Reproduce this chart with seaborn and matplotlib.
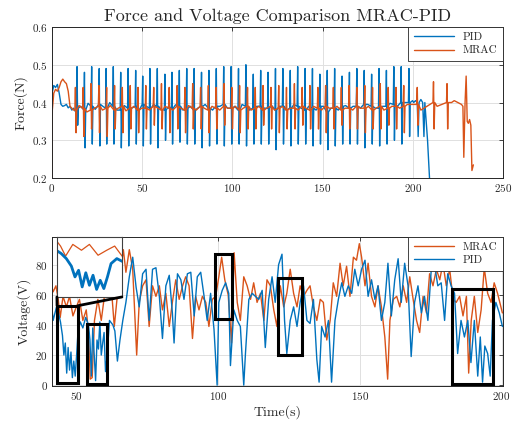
import numpy as np
import pandas as pd
import matplotlib
matplotlib.use("Agg")
import matplotlib.pyplot as plt
import matplotlib.patches as patches
from matplotlib.patches import ConnectionPatch
import seaborn as sns

# ---- force data ----
pid_start_t = [0.0, 0.3, 1.0, 2.0, 3.0, 4.0, 5.0, 6.0, 7.0, 8.0, 9.0, 10.0, 11.0, 12.0, 13.0]
pid_start_v = [0.475, 0.43, 0.445, 0.44, 0.448, 0.425, 0.395, 0.39, 0.392, 0.395, 0.386, 0.39, 0.38, 0.385, 0.376]
pid_spike_t = [13.9, 18.0, 22.0, 26.2, 30.0, 34.0, 38.1, 42.2, 46.4, 50.3, 54.3, 58.4, 62.6, 66.5, 70.6,
               74.7, 78.8, 82.9, 87.0, 91.1, 95.2, 99.3, 103.4, 107.5, 111.6, 115.7, 119.8, 123.9, 128.0,
               132.1, 136.2, 140.3, 144.4, 148.5, 152.6, 156.7, 160.8, 164.9, 169.0, 173.1, 177.2, 181.3,
               185.4, 189.5, 193.6, 197.9]
pid_spike_hi = [0.495, 0.48, 0.495, 0.49, 0.49, 0.495, 0.48, 0.49, 0.485, 0.47, 0.49, 0.49, 0.475, 0.48,
                0.485, 0.49, 0.49, 0.48, 0.485, 0.49, 0.495, 0.495, 0.49, 0.50, 0.475, 0.485, 0.48, 0.49,
                0.49, 0.485, 0.495, 0.49, 0.49, 0.475, 0.485, 0.49, 0.47, 0.48, 0.49, 0.485, 0.475, 0.49,
                0.485, 0.495, 0.495, 0.49]
pid_spike_lo = [0.34, 0.28, 0.29, 0.285, 0.29, 0.29, 0.28, 0.285, 0.29, 0.285, 0.29, 0.28, 0.30, 0.29,
                0.295, 0.29, 0.29, 0.28, 0.285, 0.29, 0.285, 0.29, 0.29, 0.285, 0.29, 0.29, 0.29, 0.275,
                0.29, 0.285, 0.29, 0.29, 0.285, 0.29, 0.275, 0.285, 0.29, 0.29, 0.29, 0.28, 0.29, 0.285,
                0.29, 0.30, 0.29, 0.31]
pid_base_a = [0.385, 0.38, 0.39, 0.395, 0.385, 0.39, 0.38, 0.385, 0.39, 0.395, 0.385, 0.39, 0.38, 0.385,
              0.39, 0.385, 0.38, 0.39, 0.385, 0.39, 0.395, 0.385, 0.38, 0.39, 0.385, 0.39, 0.385, 0.38,
              0.39, 0.385, 0.39, 0.38, 0.385, 0.39, 0.375, 0.385, 0.39, 0.385, 0.39, 0.395, 0.39, 0.385,
              0.39, 0.395, 0.40, 0.40]
pid_base_b = [0.39, 0.398, 0.382, 0.39, 0.40, 0.38, 0.392, 0.385, 0.38, 0.39, 0.395, 0.382, 0.39, 0.394,
              0.38, 0.39, 0.385, 0.395, 0.38, 0.39, 0.385, 0.39, 0.395, 0.38, 0.39, 0.385, 0.392, 0.39,
              0.38, 0.395, 0.385, 0.39, 0.38, 0.39, 0.385, 0.38, 0.392, 0.39, 0.385, 0.395, 0.385, 0.39,
              0.398, 0.39, 0.40, 0.405]
pid_end_t = [200.5, 201.5, 202.5, 203.0, 203.5, 204.5, 205.5, 206.2, 206.7, 207.5, 208.2, 209.4]
pid_end_v = [0.40, 0.405, 0.40, 0.31, 0.40, 0.408, 0.40, 0.31, 0.40, 0.345, 0.30, 0.19]

mrac_start_t = [0.0, 0.2, 1.0, 2.0, 3.0, 4.0, 5.0, 6.0, 7.0, 8.0, 9.0, 10.0, 11.0, 12.0]
mrac_start_v = [0.20, 0.38, 0.425, 0.435, 0.43, 0.44, 0.455, 0.462, 0.455, 0.45, 0.43, 0.39, 0.385, 0.38]
mrac_spike_t = [13.0, 17.3, 21.6, 26.0, 30.3, 34.7, 39.0, 43.4, 47.7, 52.0, 56.4, 60.7, 65.0, 69.4, 73.7,
                78.0, 82.4, 86.7, 91.0, 95.4, 99.7, 104.0, 108.4, 112.7, 117.0, 121.4, 125.7, 130.0, 134.4,
                138.7, 143.0, 147.4, 151.7, 156.0, 160.4, 164.7, 169.0, 173.4, 177.7, 182.0, 186.4, 190.7,
                195.0, 202.5, 211.5, 219.0]
mrac_spike_hi = [0.44, 0.44, 0.45, 0.445, 0.44, 0.445, 0.44, 0.445, 0.44, 0.445, 0.44, 0.45, 0.44, 0.445,
                 0.44, 0.45, 0.44, 0.445, 0.44, 0.45, 0.44, 0.445, 0.44, 0.44, 0.445, 0.44, 0.445, 0.44,
                 0.45, 0.44, 0.445, 0.44, 0.445, 0.44, 0.44, 0.445, 0.44, 0.445, 0.44, 0.45, 0.44, 0.44,
                 0.445, 0.44, 0.455, 0.45]
mrac_spike_lo = [0.32, 0.31, 0.33, 0.32, 0.31, 0.33, 0.32, 0.33, 0.32, 0.33, 0.34, 0.33, 0.32, 0.33, 0.32,
                 0.33, 0.33, 0.32, 0.33, 0.34, 0.33, 0.32, 0.33, 0.33, 0.34, 0.33, 0.32, 0.33, 0.33, 0.34,
                 0.33, 0.33, 0.32, 0.33, 0.34, 0.33, 0.33, 0.32, 0.33, 0.33, 0.34, 0.33, 0.32, 0.34, 0.33,
                 0.33]
mrac_base_a = [0.38, 0.385, 0.38, 0.39, 0.385, 0.38, 0.39, 0.385, 0.38, 0.385, 0.39, 0.38, 0.385, 0.39,
               0.38, 0.385, 0.39, 0.38, 0.385, 0.39, 0.385, 0.38, 0.39, 0.385, 0.38, 0.39, 0.385, 0.38,
               0.385, 0.39, 0.38, 0.385, 0.39, 0.385, 0.38, 0.385, 0.39, 0.385, 0.38, 0.39, 0.385, 0.39,
               0.39, 0.395, 0.40, 0.40]
mrac_base_b = [0.392, 0.375, 0.385, 0.38, 0.392, 0.385, 0.378, 0.39, 0.385, 0.38, 0.386, 0.39, 0.38, 0.385,
               0.392, 0.38, 0.385, 0.39, 0.38, 0.385, 0.39, 0.385, 0.38, 0.39, 0.385, 0.38, 0.39, 0.385,
               0.38, 0.385, 0.39, 0.38, 0.385, 0.39, 0.385, 0.38, 0.385, 0.39, 0.385, 0.38, 0.39, 0.385,
               0.395, 0.38, 0.39, 0.40]
mrac_end_t = [221.5, 223.0, 225.0, 227.0, 227.8, 228.3, 229.0, 229.6, 230.2, 230.8, 231.5, 232.2, 232.8, 233.6]
mrac_end_v = [0.40, 0.405, 0.40, 0.395, 0.39, 0.255, 0.40, 0.47, 0.35, 0.345, 0.355, 0.34, 0.22, 0.235]

# ---- voltage data ----
pid_volt_t = [41.0, 41.7, 42.9, 43.6, 44.3, 45.0, 45.5, 46.0, 46.5, 47.0, 47.5, 48.0, 48.5, 49.0, 49.5,
              50.0, 50.5, 51.3, 52.2, 53.2, 54.2, 54.7, 55.2, 55.7, 56.2, 56.7, 57.2, 57.7, 58.2, 58.7,
              59.2, 59.7, 60.2, 60.7, 61.6, 62.8, 63.5, 64.4, 65.3, 66.3, 67.4, 68.6, 69.8, 71.0, 72.1,
              73.3, 74.5, 75.6, 76.8, 78.0, 79.2, 80.3, 81.5, 82.7, 83.8, 84.4, 85.6, 86.8, 87.9, 89.1,
              90.3, 91.5, 92.6, 93.8, 95.0, 96.1, 97.3, 98.5, 99.6, 100.2, 101.4, 102.6, 103.7, 104.3,
              105.5, 106.7, 107.8, 109.0, 109.6, 110.8, 112.0, 113.1, 114.3, 115.5, 116.6, 117.8, 119.0,
              120.1, 121.3, 122.5, 123.4, 124.2, 125.4, 126.6, 127.8, 128.9, 130.1, 131.3, 132.4, 133.6,
              134.8, 135.6, 136.5, 137.7, 138.9, 140.0, 141.2, 142.4, 143.6, 144.7, 145.9, 147.1, 148.2,
              149.4, 150.6, 151.8, 152.9, 154.1, 155.3, 156.4, 157.6, 158.8, 159.9, 161.1, 162.3, 163.5,
              164.6, 165.8, 167.0, 168.1, 169.3, 170.5, 171.7, 172.8, 174.0, 175.2, 176.3, 177.5, 178.7,
              179.9, 181.0, 182.2, 183.4, 184.5, 185.7, 186.9, 188.1, 189.2, 190.4, 191.6, 192.5, 193.3,
              194.1, 195.1, 196.0, 196.8, 198.0, 199.2, 200.3]
pid_volt_v = [57, 43, 52, 48, 42, 33, 20, 28, 8, 25, 10, 22, 5, 16, 6,
              20, 36, 42, 38, 45, 40, 30, 6, 38, 20, 3, 30, 24, 42, 20,
              28, 35, 9, 18, 43, 40, 36, 16, 30, 43, 55, 72, 85, 65, 52,
              74, 77, 43, 77, 78, 59, 31, 66, 73, 48, 28, 74, 70, 57, 74,
              75, 46, 72, 75, 59, 43, 61, 37, 0, 55, 63, 68, 61, 13,
              50, 43, 39, 0, 21, 57, 61, 59, 57, 63, 25, 57, 72,
              55, 80, 87, 43, 21, 43, 52, 39, 55, 66, 43, 41, 57,
              17, 2, 39, 32, 43, 2, 43, 57, 68, 59, 66, 61, 77,
              66, 77, 83, 59, 70, 57, 66, 43, 55, 81, 46, 70, 84,
              55, 81, 66, 19, 55, 66, 48, 59, 43, 77, 81, 66, 68,
              43, 74, 66, 61, 21, 43, 32, 43, 15, 43, 6, 32, 2,
              26, 21, 6, 43, 55, 48, 39]

mrac_volt_t = [40.8, 41.7, 42.7, 43.5, 44.2, 45.2, 46.4, 47.5, 48.7, 49.9, 51.0, 52.2, 53.4, 54.2, 54.8,
               55.5, 56.3, 57.5, 58.7, 59.8, 61.0, 62.2, 63.3, 64.4, 65.6, 66.5, 67.4, 68.6, 69.8, 71.2,
               72.1, 73.3, 74.5, 75.6, 76.8, 78.0, 79.2, 80.3, 81.5, 82.7, 83.8, 85.0, 86.2, 87.4, 88.5,
               89.7, 90.9, 92.0, 93.2, 94.4, 95.6, 96.7, 97.9, 99.1, 100.2, 101.2, 102.3, 103.5, 104.7,
               105.6, 106.7, 107.8, 109.0, 110.2, 111.4, 112.5, 113.7, 114.9, 116.1, 117.2, 118.4, 119.6,
               120.7, 121.9, 123.1, 124.2, 125.4, 126.6, 127.8, 128.9, 130.1, 131.3, 132.4, 133.6, 134.8,
               136.0, 137.1, 138.3, 139.5, 140.6, 141.8, 143.0, 144.1, 145.3, 146.5, 147.7, 148.8, 149.8,
               150.6, 151.8, 152.9, 154.1, 155.3, 156.4, 157.6, 158.8, 159.8, 160.6, 161.8, 163.0, 164.1,
               165.3, 166.5, 167.6, 168.8, 170.0, 171.1, 172.3, 173.5, 174.6, 175.8, 177.0, 178.2, 179.3,
               180.5, 181.7, 182.9, 184.0, 185.2, 186.4, 187.6, 188.4, 189.3, 190.4, 191.6, 192.8, 193.9,
               195.1, 196.3, 197.4, 198.6, 200.3]
mrac_volt_v = [68, 62, 66, 57, 45, 59, 52, 59, 46, 52, 57, 43, 50, 35, 4,
               5, 43, 57, 43, 59, 81, 66, 39, 60, 77, 90, 75, 90, 77, 20,
               55, 66, 70, 39, 66, 59, 66, 50, 61, 39, 55, 70, 57, 66, 72,
               66, 31, 59, 50, 59, 55, 39, 57, 59, 72, 85, 70, 60, 28,
               88, 55, 43, 72, 66, 57, 68, 55, 61, 43, 70, 66, 50,
               39, 66, 52, 61, 77, 61, 52, 66, 59, 63, 66, 52, 43,
               57, 55, 30, 43, 68, 59, 81, 66, 79, 59, 85, 83, 94,
               85, 66, 81, 59, 52, 66, 52, 32, 4, 43, 57, 59, 52,
               66, 55, 72, 57, 43, 35, 59, 48, 74, 66, 77, 70, 81,
               66, 77, 57, 55, 59, 46, 59, 8, 43, 59, 35, 50, 78,
               61, 55, 68, 61, 48]

# highlight boxes on the voltage plot (data units)
box_x0 = [43.1, 53.7, 98.8, 121.2, 182.4]
box_x1 = [50.5, 60.7, 104.9, 129.5, 197.1]
box_y0 = [1.6, 1.0, 44.0, 19.9, 0.5]
box_y1 = [52.8, 40.9, 87.0, 71.5, 63.8]

BLUE = "#0072BD"
ORANGE = "#D95319"


def spike_series(start_t, start_v, sp_t, sp_hi, sp_lo, base_a, base_b, end_t, end_v):
    ts, vs = list(start_t), list(start_v)
    for t, h, l, a, b in zip(sp_t, sp_hi, sp_lo, base_a, base_b):
        ts += [t - 0.3, t, t + 0.35, t + 0.7, t + 2.0]
        vs += [a, h, l, a, b]
    ts += end_t
    vs += end_v
    return pd.DataFrame({"t": ts, "v": vs})


df_pid_f = spike_series(pid_start_t, pid_start_v, pid_spike_t, pid_spike_hi, pid_spike_lo,
                        pid_base_a, pid_base_b, pid_end_t, pid_end_v)
df_mrac_f = spike_series(mrac_start_t, mrac_start_v, mrac_spike_t, mrac_spike_hi, mrac_spike_lo,
                         mrac_base_a, mrac_base_b, mrac_end_t, mrac_end_v)
df_pid_v = pd.DataFrame({"t": pid_volt_t, "v": pid_volt_v})
df_mrac_v = pd.DataFrame({"t": mrac_volt_t, "v": mrac_volt_v})

sns.set_theme(style="whitegrid")
plt.rcParams["font.family"] = "serif"
plt.rcParams["font.serif"] = ["cmr10", "DejaVu Serif"]
plt.rcParams["axes.formatter.use_mathtext"] = True


def style_axes(ax):
    ax.set_facecolor("white")
    ax.grid(True, color="#e0e0e0", linewidth=0.7)
    for sp in ax.spines.values():
        sp.set_color("#262626")
        sp.set_linewidth(0.7)
    ax.tick_params(direction="in", length=3, width=0.6, top=True, right=True,
                   labelsize=8, colors="#262626", pad=3)


def style_legend(leg):
    leg.get_frame().set_edgecolor("#262626")
    leg.get_frame().set_linewidth(0.6)


fig = plt.figure(figsize=(5.25, 4.25), dpi=100)
fig.patch.set_facecolor("white")

# ---- top: force ----
ax1 = fig.add_axes([0.099, 0.581, 0.859, 0.3555])
sns.lineplot(data=df_pid_f, x="t", y="v", ax=ax1, color=BLUE, lw=1.0, sort=False,
             estimator=None, label="PID")
sns.lineplot(data=df_mrac_f, x="t", y="v", ax=ax1, color=ORANGE, lw=1.0, sort=False,
             estimator=None, label="MRAC")
ax1.set_xlim(0, 250)
ax1.set_ylim(0.2, 0.6)
ax1.set_xticks([0, 50, 100, 150, 200, 250])
ax1.set_yticks([0.2, 0.3, 0.4, 0.5, 0.6])
ax1.set_xlabel("")
ax1.set_ylabel("Force(N)", fontsize=10, labelpad=3)
ax1.set_title("Force and Voltage Comparison MRAC-PID", fontsize=13, pad=4)
style_axes(ax1)
leg1 = ax1.legend(loc="upper right", fontsize=8, handlelength=3.6, borderaxespad=0,
                  frameon=True, fancybox=False, framealpha=1, labelspacing=0.3,
                  borderpad=0.5)
style_legend(leg1)

# ---- bottom: voltage ----
ax2 = fig.add_axes([0.099, 0.092, 0.859, 0.3506])
sns.lineplot(data=df_mrac_v, x="t", y="v", ax=ax2, color=ORANGE, lw=1.0, sort=False,
             estimator=None, label="MRAC")
sns.lineplot(data=df_pid_v, x="t", y="v", ax=ax2, color=BLUE, lw=1.0, sort=False,
             estimator=None, label="PID")
ax2.set_xlim(41.3, 200.5)
ax2.set_ylim(-0.5, 98.5)
ax2.set_xticks([50, 100, 150, 200])
ax2.set_yticks([0, 20, 40, 60, 80])
ax2.set_xlabel("Time(s)", fontsize=10, labelpad=2)
ax2.set_ylabel("Voltage(V)", fontsize=10, labelpad=3)
style_axes(ax2)
leg2 = ax2.legend(loc="upper right", fontsize=8, handlelength=3.6, borderaxespad=0,
                  frameon=True, fancybox=False, framealpha=1, labelspacing=0.3,
                  borderpad=0.5)
style_legend(leg2)

for x0, x1, y0, y1 in zip(box_x0, box_x1, box_y0, box_y1):
    ax2.add_patch(patches.Rectangle((x0, y0), x1 - x0, y1 - y0, fill=False,
                                    ec="black", lw=2.2, zorder=6))

# zoomed inset
axins = ax2.inset_axes([0.011, 0.597, 0.144, 0.403])
sns.lineplot(data=df_mrac_v, x="t", y="v", ax=axins, color=ORANGE, lw=0.9, sort=False,
             estimator=None)
sns.lineplot(data=df_pid_v, x="t", y="v", ax=axins, color=BLUE, lw=2.0, sort=False,
             estimator=None)
axins.set_xlim(43.0, 52.0)
axins.set_ylim(-4, 68)
axins.set_xticks([])
axins.set_yticks([])
axins.set_xlabel("")
axins.set_ylabel("")
axins.grid(False)
axins.set_facecolor("white")
for sp in axins.spines.values():
    sp.set_color("#404040")
    sp.set_linewidth(0.8)

for xa, xb in [(0, box_x0[0]), (1, box_x1[0])]:
    con = ConnectionPatch(xyA=(xa, 0), coordsA=axins.transAxes,
                          xyB=(xb, box_y1[0]), coordsB=ax2.transData,
                          color="black", lw=2.0, zorder=7)
    fig.add_artist(con)

fig.savefig("out.png", dpi=100, facecolor="white")
